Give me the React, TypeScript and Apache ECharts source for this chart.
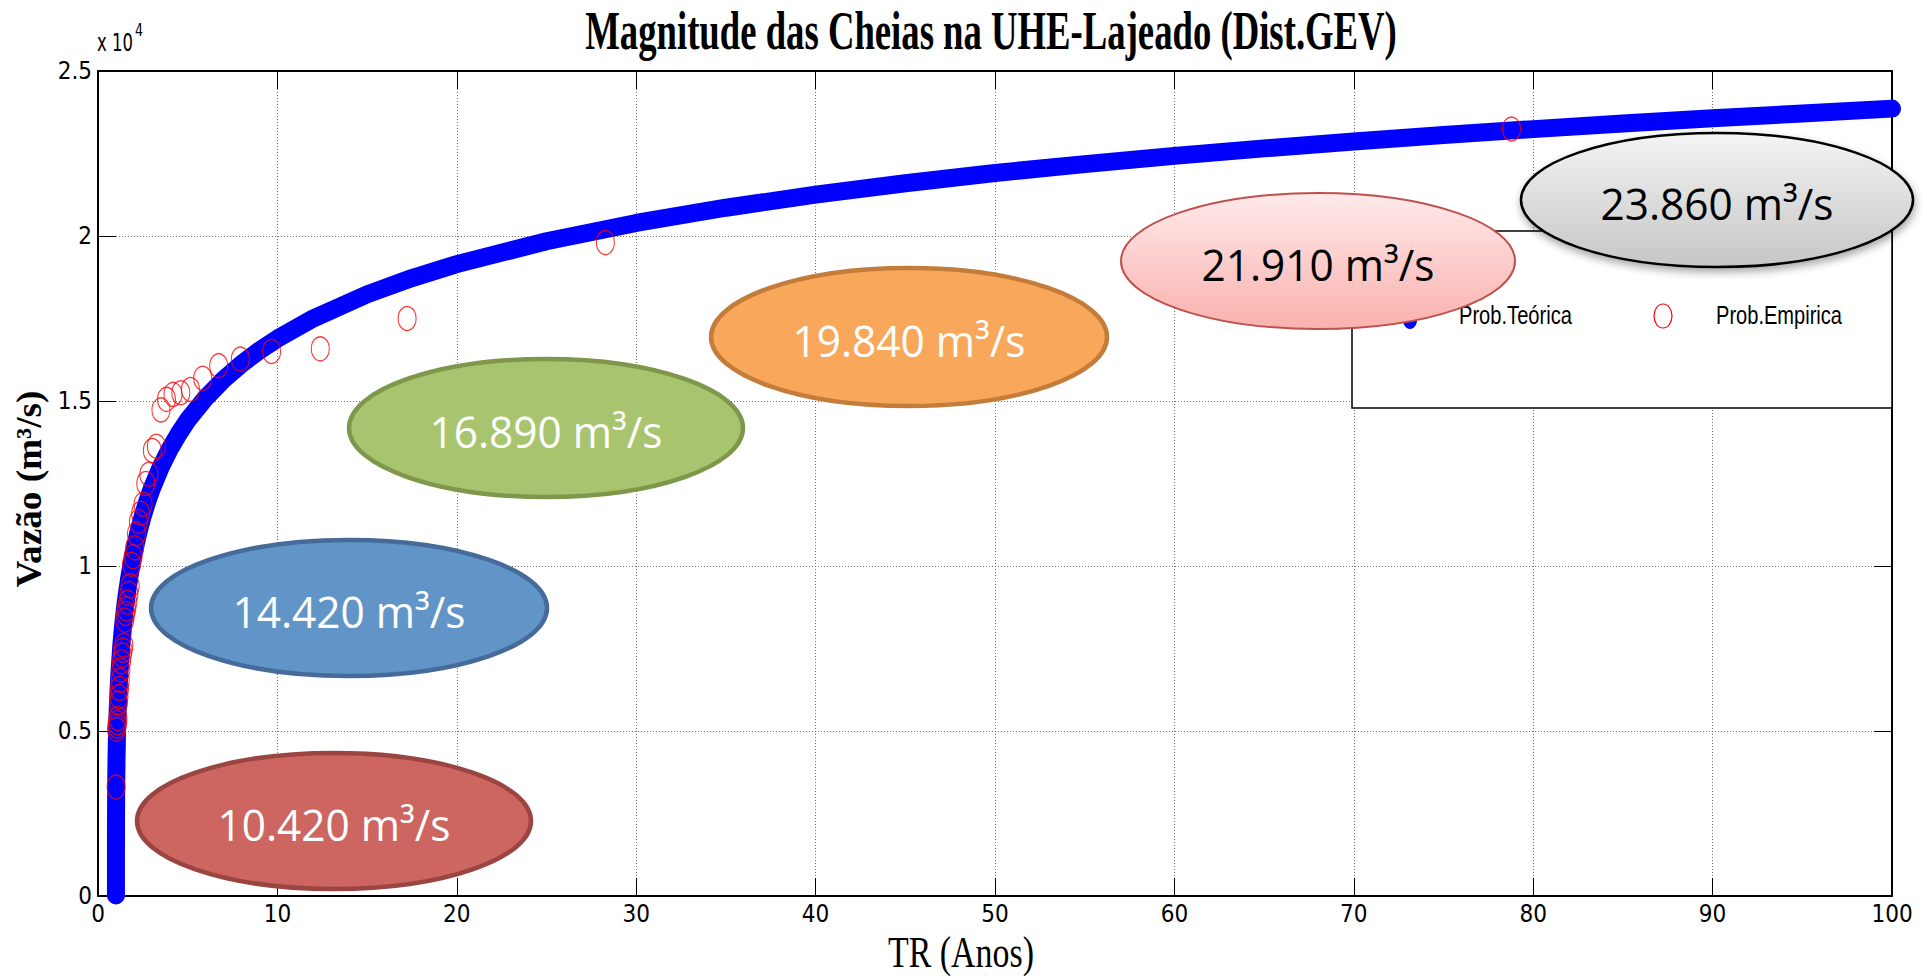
import React, { useEffect, useRef } from "react";
import * as echarts from "echarts";

// ---------------- data ----------------
// theoretical GEV curve (TR in years, Q in m³/s), read along the blue band
const TR_THEO = [
  1.0001, 1.001, 1.003, 1.005, 1.01, 1.02, 1.03, 1.05, 1.07, 1.1, 1.15, 1.2, 1.3, 1.4, 1.5, 1.6, 1.75, 1.85,
  2, 2.25, 2.5, 2.75, 3, 3.5, 4, 4.5, 5, 6, 7, 8, 9, 10, 12, 15, 17.5, 20, 25, 30, 35, 40, 45, 50, 55, 60, 65,
  70, 75, 80, 85, 90, 95, 100,
];
const Q_THEO = [
  15, 1265, 2006, 2395, 2980, 3647, 4085, 4697, 5144, 5661, 6310, 6814, 7594, 8200, 8700, 9127, 9674, 9993,
  10416, 11017, 11524, 11961, 12347, 13001, 13544, 14008, 14420, 15092, 15650, 16122, 16530, 16890, 17501,
  18231, 18725, 19147, 19840, 20395, 20857, 21252, 21598, 21910, 22178, 22428, 22655, 22864, 23058, 23239,
  23407, 23565, 23714, 23860,
];
// empirical points (red circles)
const TR_EMP = [
  78.79, 28.28, 17.23, 12.39, 9.675, 7.935, 6.726, 5.836, 5.154, 4.615, 4.178, 3.817, 3.51, 3.254, 3.03,
  2.835, 2.663, 2.511, 2.376, 2.254, 2.145, 2.045, 1.954, 1.871, 1.795, 1.724, 1.659, 1.599, 1.542, 1.49,
  1.441, 1.395, 1.352, 1.311, 1.273, 1.237, 1.203, 1.171, 1.14, 1.111, 1.083, 1.057, 1.032, 1.008,
];
const Q_EMP = [
  23240, 19800, 17500, 16580, 16500, 16270, 16070, 15690, 15350, 15250, 15200, 15050, 14730, 13630, 13500,
  12780, 12500, 11870, 11600, 11350, 10980, 10550, 10280, 10050, 9400, 9170, 8900, 8700, 8560, 8360, 7600,
  7450, 7300, 7100, 6850, 6540, 6290, 6040, 5850, 5380, 5250, 5150, 5050, 3300,
];
const Y_TICK_LABELS = ["0", "0.5", "1", "1.5", "2", "2.5"];
const SERIES_NAMES = ["Prob.Teórica", "Prob.Empirica"];
const ANNOTATIONS = ["10.420 m³/s", "14.420 m³/s", "16.890 m³/s", "19.840 m³/s", "21.910 m³/s", "23.860 m³/s"];
const TITLE = "Magnitude das Cheias na UHE-Lajeado (Dist.GEV)";
const X_NAME = "TR (Anos)";
const Y_NAME = "Vazão (m³/s)";

// ---------------- layout / styles ----------------
const W = 1927;
const H = 976;
const SERIF = '"Liberation Serif", "Times New Roman", serif';
const SANS = '"Liberation Sans", Arial, sans-serif';
const NARROW = '"Liberation Sans Narrow", "Arial Narrow", "DejaVu Sans Condensed", "Liberation Sans", sans-serif';
const CALI = '"Open Sans", "Noto Sans", sans-serif';

const ELLIPSE_STYLE = [
  { cx: 334, cy: 821, rx: 197, ry: 68, fill: "#CD6560", stroke: "#9A4542", lw: 4.5, color: "#FFFFFF" },
  { cx: 349, cy: 608, rx: 198, ry: 68, fill: "#6194C7", stroke: "#466A9A", lw: 4.5, color: "#FFFFFF" },
  { cx: 546, cy: 428, rx: 197, ry: 69, fill: "#A9C46F", stroke: "#7F974B", lw: 4.5, color: "#FFFFFF" },
  { cx: 909, cy: 337, rx: 198, ry: 69, fill: "#F9A85B", stroke: "#C47C3A", lw: 4.5, color: "#FFFFFF" },
  { cx: 1318, cy: 261, rx: 197, ry: 68, grad: ["#FFEAEA", "#F9B1AE"], stroke: "#C0504D", lw: 2, color: "#000000" },
  { cx: 1717, cy: 200, rx: 196, ry: 67, grad: ["#F4F4F4", "#C6C6C6"], stroke: "#000000", lw: 2.5, color: "#000000", shadow: true },
];

let measureCtx: CanvasRenderingContext2D | null = null;
function textWidth(text: string, font: string): number {
  if (!measureCtx) measureCtx = document.createElement("canvas").getContext("2d");
  if (!measureCtx) return 0;
  measureCtx.font = font;
  return measureCtx.measureText(text).width;
}
function fit(text: string, font: string, target: number): number {
  const w = textWidth(text, font);
  return w > 0 ? target / w : 1;
}

function txt(
  text: string,
  x: number,
  y: number,
  opts: { size: number; family: string; weight?: string; color?: string; align?: string; target?: number; z?: number }
) {
  const weight = opts.weight || "normal";
  const font = `${weight} ${opts.size}px ${opts.family}`;
  const sx = opts.target ? fit(text, font, opts.target) : 1;
  return {
    type: "text",
    x,
    y,
    scaleX: sx,
    z: opts.z ?? 80,
    style: {
      text,
      fill: opts.color || "#000",
      fontSize: opts.size,
      fontFamily: opts.family,
      fontWeight: weight,
      textAlign: opts.align || "center",
      align: opts.align || "center",
      textVerticalAlign: "middle",
      verticalAlign: "middle",
    },
  };
}

function buildGraphic() {
  const els: any[] = [];
  // legend box
  els.push({
    type: "rect",
    z: 50,
    shape: { x: 1352, y: 231, width: 540, height: 177 },
    style: { fill: "#FFFFFF", stroke: "#000000", lineWidth: 1.5 },
  });
  els.push({ type: "ellipse", z: 51, shape: { cx: 1410, cy: 320, rx: 7, ry: 9 }, style: { fill: "#0000FF" } });
  els.push({
    type: "ellipse",
    z: 51,
    shape: { cx: 1663, cy: 316, rx: 9, ry: 12 },
    style: { fill: "none", stroke: "#FF0000", lineWidth: 1.2 },
  });
  els.push(txt(SERIES_NAMES[0], 1459, 315, { size: 25, family: SANS, align: "left", target: 113, z: 51 }));
  els.push(txt(SERIES_NAMES[1], 1716, 315, { size: 25, family: SANS, align: "left", target: 126, z: 51 }));

  // annotation ellipses
  const annFont = `normal 42px ${CALI}`;
  const annScale = fit(ANNOTATIONS[4], annFont, 233);
  ELLIPSE_STYLE.forEach((e, i) => {
    const fill = e.grad
      ? new echarts.graphic.LinearGradient(0, 0, 0, 1, [
          { offset: 0, color: e.grad[0] },
          { offset: 1, color: e.grad[1] },
        ])
      : e.fill;
    const style: any = { fill, stroke: e.stroke, lineWidth: e.lw };
    if (e.shadow) {
      style.shadowBlur = 8;
      style.shadowOffsetY = 4;
      style.shadowOffsetX = 1;
      style.shadowColor = "rgba(0,0,0,0.35)";
    }
    els.push({ type: "ellipse", z: 60 + i * 2, shape: { cx: e.cx, cy: e.cy, rx: e.rx, ry: e.ry }, style });
    const t = txt(ANNOTATIONS[i], e.cx, e.cy + 3, { size: 43, family: CALI, color: e.color, z: 61 + i * 2 });
    t.scaleX = annScale * (42 / 43);
    els.push(t);
  });

  // title
  els.push(txt(TITLE, 991, 31, { size: 54, family: SERIF, weight: "bold", target: 812, z: 90 }));
  // axis names
  els.push(txt(X_NAME, 961, 952, { size: 44, family: SERIF, target: 146, z: 90 }));
  const yFont = `bold 36px ${SERIF}`;
  const yLen = fit(Y_NAME, yFont, 197);
  els.push({
    type: "text",
    x: 29,
    y: 489,
    rotation: Math.PI / 2,
    scaleX: yLen,
    scaleY: 1.0,
    z: 90,
    style: {
      text: Y_NAME,
      fill: "#000",
      fontSize: 36,
      fontFamily: SERIF,
      fontWeight: "bold",
      textAlign: "center",
      align: "center",
      textVerticalAlign: "middle",
      verticalAlign: "middle",
    },
  });
  // exponent "x 10^4"
  els.push(txt("x 10", 97, 43, { size: 24, family: NARROW, align: "left", target: 36, z: 90 }));
  els.push(txt("4", 135, 31, { size: 17, family: NARROW, align: "left", target: 8, z: 90 }));
  return els;
}

function buildOption(): any {
  const axisLine = { show: true, onZero: false, lineStyle: { color: "#000", width: 2 } };
  const axisTick = { show: true, inside: true, length: 18, lineStyle: { color: "#000", width: 1 } };
  const split = { show: true, lineStyle: { color: "#6f6f6f", width: 1, type: [1, 2] } };
  return {
    animation: false,
    backgroundColor: "#FFFFFF",
    grid: { left: 98, right: 35, top: 71, bottom: 80, containLabel: false },
    xAxis: [
      {
        type: "value",
        min: 0,
        max: 100,
        interval: 10,
        position: "bottom",
        axisLine,
        axisTick,
        axisLabel: { color: "#000", fontSize: 24, fontFamily: NARROW, margin: 6 },
        splitLine: split,
      },
      {
        type: "value",
        min: 0,
        max: 100,
        interval: 10,
        position: "top",
        axisLine,
        axisTick,
        axisLabel: { show: false },
        splitLine: { show: false },
      },
    ],
    yAxis: [
      {
        type: "value",
        min: 0,
        max: 25000,
        interval: 5000,
        position: "left",
        axisLine,
        axisTick,
        axisLabel: {
          color: "#000",
          fontSize: 24,
          fontFamily: NARROW,
          margin: 6,
          formatter: (v: number) => Y_TICK_LABELS[Math.round(v / 5000)] ?? "",
        },
        splitLine: split,
      },
      {
        type: "value",
        min: 0,
        max: 25000,
        interval: 5000,
        position: "right",
        axisLine,
        axisTick,
        axisLabel: { show: false },
        splitLine: { show: false },
      },
    ],
    series: [
      {
        name: SERIES_NAMES[0],
        type: "line",
        data: TR_THEO.map((t, i) => [t, Q_THEO[i]]),
        symbol: "none",
        showSymbol: false,
        clip: false,
        z: 3,
        lineStyle: { color: "#0000FF", width: 18, cap: "round", join: "round" },
      },
      {
        name: SERIES_NAMES[1],
        type: "scatter",
        data: TR_EMP.map((t, i) => [t, Q_EMP[i]]),
        symbol: "circle",
        symbolSize: [18, 24],
        clip: false,
        z: 4,
        itemStyle: { color: "rgba(0,0,0,0)", borderColor: "#FF0000", borderWidth: 1.2 },
      },
    ],
    graphic: { elements: buildGraphic() },
  };
}

export default function App() {
  const ref = useRef<HTMLDivElement>(null);
  useEffect(() => {
    if (!ref.current) return;
    const chart = echarts.init(ref.current, undefined, { renderer: "svg", width: W, height: H });
    chart.setOption(buildOption());
    return () => chart.dispose();
  }, []);
  return (
    <div
      ref={ref}
      style={{ position: "fixed", left: 0, top: 0, width: W + "px", height: H + "px", background: "#fff" }}
    />
  );
}
